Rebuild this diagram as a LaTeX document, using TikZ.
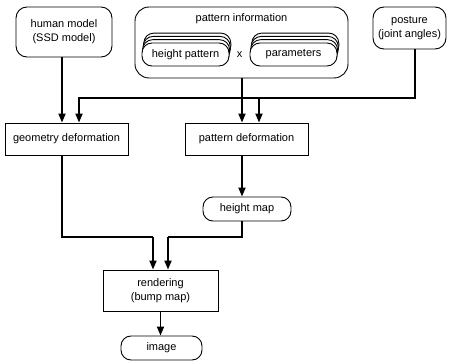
\documentclass[tikz,border=0pt]{standalone}
\usepackage{fontspec}
\setmainfont{Liberation Sans}
\usetikzlibrary{arrows.meta}
\begin{document}
\begin{tikzpicture}[x=1pt, y=-1pt, font=\fontsize{11}{14}\selectfont]
	% Define styles
	\tikzstyle{softbox} = [rectangle, draw, line width=0.9pt, rounded corners=11pt, align=center, inner sep=0pt]
	\tikzstyle{hardbox} = [rectangle, draw, line width=0.9pt, align=center, inner sep=0pt]
	\tikzstyle{card} = [draw, line width=0.9pt, fill=white, rounded corners=10pt]
	\tikzstyle{flow} = [line width=1.8pt, -{Triangle[length=9pt, width=7pt]}]
	\tikzstyle{wire} = [line width=1.8pt]
	\useasboundingbox (0,0) rectangle (451,361);

	% Inputs
	\node[softbox, minimum width=96pt, minimum height=50pt] (human) at (64,32) {human model\\(SSD model)};
	\node[softbox, rounded corners=14pt, minimum width=213pt, minimum height=71pt] (patinfo) at (241.5,42.5) {};
	\node (infolabel) at (241.5,19) {pattern information};
	\foreach \k in {3,2,1} {
		\draw[card] ({142+0.6*\k},{43-3.3*\k}) rectangle ({229+0.6*\k},{66-3.3*\k});
		\draw[card] ({250+0.6*\k},{43-3.3*\k}) rectangle ({337+0.6*\k},{66-3.3*\k});
	}
	\node[softbox, rounded corners=10pt, fill=white, minimum width=87pt, minimum height=23pt] (hpat) at (185.5,54.5) {height pattern};
	\node[softbox, rounded corners=10pt, fill=white, minimum width=87pt, minimum height=23pt] (param) at (293.5,54.5) {parameters};
	\node (times) at (239.5,54.5) {x};
	\node[softbox, minimum width=73pt, minimum height=42pt] (posture) at (409.5,28) {posture\\(joint angles)};

	% Processing
	\node[hardbox, minimum width=123pt, minimum height=32pt] (geom) at (66.5,139) {geometry deformation};
	\node[hardbox, minimum width=123pt, minimum height=32pt] (patdef) at (246.5,139) {pattern deformation};
	\node[softbox, rounded corners=10pt, minimum width=88pt, minimum height=24pt] (hmap) at (247,209) {height map};
	\node[hardbox, minimum width=115pt, minimum height=41pt] (render) at (160.5,290.5) {rendering\\(bump map)};
	\node[softbox, rounded corners=10pt, minimum width=81pt, minimum height=24pt] (image) at (161.5,348) {image};

	% Arrows
	\coordinate (bus) at (0,98);
	\coordinate (join) at (0,237);
	\draw[flow] ([xshift=-2pt]human.south) -- ([xshift=-4.5pt]geom.north);
	\draw[flow] ([xshift=5.5pt]posture.south) |- ([xshift=12.5pt]geom.north |- bus) -- ([xshift=12.5pt]geom.north);
	\draw[flow] ([xshift=12.5pt]patdef.north |- bus) -- ([xshift=12.5pt]patdef.north);
	\draw[flow] ([xshift=0.5pt]patinfo.south) -- ([xshift=-4.5pt]patdef.north);
	\draw[flow] ([xshift=-4.5pt]patdef.south) -- ([xshift=-4.5pt]patdef.south |- hmap.north);
	\draw[wire] ([xshift=-4.5pt]geom.south) |- ([xshift=-7.5pt]render.north |- join);
	\draw[flow] ([xshift=-7.5pt]render.north |- join) -- ([xshift=-7.5pt]render.north);
	\draw[wire] ([xshift=-5pt]hmap.south) |- ([xshift=7.5pt]render.north |- join);
	\draw[flow] ([xshift=7.5pt]render.north |- join) -- ([xshift=7.5pt]render.north);
	\draw[flow] (render.south) -- (render.south |- image.north);
\end{tikzpicture}
\end{document}
